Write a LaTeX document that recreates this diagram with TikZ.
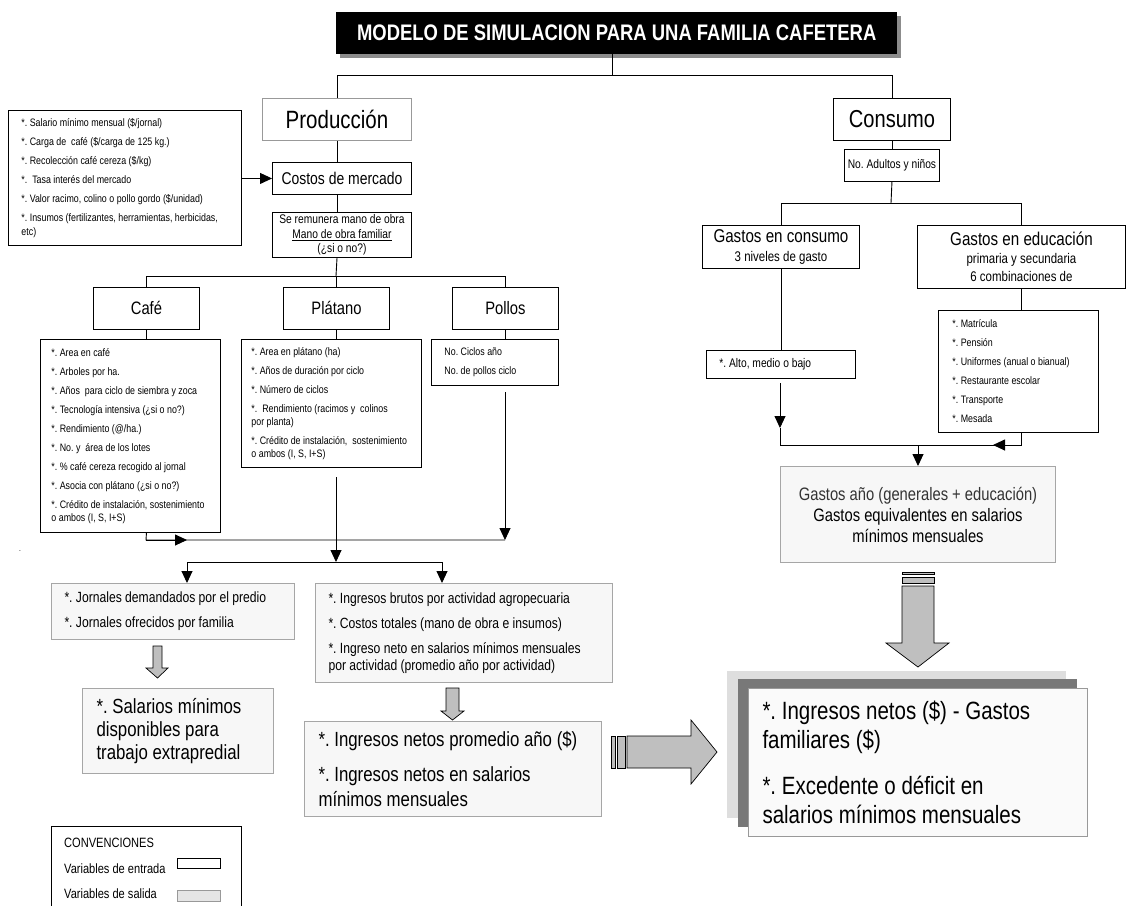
\documentclass[tikz,border=0pt]{standalone}
\usepackage{fontspec}
\setmainfont{Liberation Sans}[FakeStretch=0.82]
\usetikzlibrary{arrows.meta}
\newcommand{\fsz}[2]{\fontsize{#1}{#2}\selectfont}
\frenchspacing
\hyphenpenalty=10000
\exhyphenpenalty=10000
\begin{document}
\frenchspacing
\begin{tikzpicture}[x=1pt,y=-1pt,
 nw/.style={anchor=north west},
 ln/.style={line width=0.9pt},
 arr/.style={line width=0.9pt,-{Triangle[length=12pt,width=11pt]}},
 inbox/.style={draw=black,fill=white,line width=0.9pt,inner sep=0pt},
 outbox/.style={draw=black!35,fill=black!3,line width=1pt,inner sep=0pt},
 blk/.style={draw=black,fill=black!25,line width=0.7pt},
 small/.style={font={\frenchspacing\fsz{10.8}{13}}},
]
\useasboundingbox (0,0) rectangle (1126,905);
\fill[white] (0,0) rectangle (1126,905);

% title
\fill[black!45] (340,16) rectangle (901,58);
\node[nw,fill=black,text=white,inner sep=0pt,minimum width=561,minimum height=42,font={\bfseries\fsz{22.5}{24}}] (title) at (336,12) {MODELO DE SIMULACION PARA UNA FAMILIA CAFETERA};

% production side
\node[nw,draw=black!40,fill=white,line width=1pt,inner sep=0pt,minimum width=149,minimum height=42,font={\fsz{25}{26}}] (prod) at (262,98) {Producción};
\node[nw,inbox,minimum width=117,minimum height=42,font={\fsz{24.5}{26}}] (cons) at (833,98) {Consumo};

\node[nw,inbox,minimum width=233,minimum height=135,text width=207pt,align=flush left,font={\frenchspacing\fsz{10.8}{14}}] (inp) at (8,110)
 {*. Salario mínimo mensual (\$/jornal)\\[5pt]
  *. Carga de\ \ café (\$/carga de 125 kg.)\\[5pt]
  *. Recolección café cereza (\$/kg)\\[5pt]
  *.\ \ Tasa interés del mercado\\[5pt]
  *. Valor racimo, colino o pollo gordo (\$/unidad)\\[5pt]
  *. Insumos (fertilizantes, herramientas, herbicidas,\\
  etc)};

\node[nw,inbox,minimum width=139,minimum height=32,font={\fsz{17}{20}}] (cost) at (272,162) {Costos de mercado};
\node[nw,inbox,minimum width=139,minimum height=45,align=flush center,font={\fsz{12.5}{14.5}}] (rem) at (272,212)
 {Se remunera mano de obra\\ \underline{Mano de obra familiar}\\ (¿si o no?)};

\node[nw,inbox,minimum width=106,minimum height=42,font={\fsz{18}{20}}] (caf) at (93,287) {Café};
\node[nw,inbox,minimum width=106,minimum height=42,font={\fsz{18}{20}}] (pla) at (283,287) {Plátano};
\node[nw,inbox,minimum width=106,minimum height=42,font={\fsz{18}{20}}] (pol) at (452,287) {Pollos};

\node[nw,inbox,small,minimum width=180,minimum height=193,text width=158pt,align=flush left] (cafd) at (40,339)
 {*. Area en café\\[6pt]
  *. Arboles por ha.\\[6pt]
  *. Años\ \ para ciclo de siembra y zoca\\[6pt]
  *. Tecnología intensiva (¿si o no?)\\[6pt]
  *. Rendimiento (@/ha.)\\[6pt]
  *. No. y\ \ área de los lotes\\[6pt]
  *. \% café cereza recogido al jornal\\[6pt]
  *. Asocia con plátano (¿si o no?)\\[6pt]
  *. Crédito de instalación, sostenimiento\\
  o ambos (I, S, I+S)};

\node[nw,inbox,small,minimum width=180,minimum height=128,text width=160pt,align=flush left] (plad) at (241,339)
 {*. Area en plátano (ha)\\[6pt]
  *. Años de duración por ciclo\\[6pt]
  *. Número de ciclos\\[6pt]
  *.\ \ Rendimiento (racimos y\ \ colinos\\
  por planta)\\[6pt]
  *. Crédito de instalación,\ \ sostenimiento\\
  o ambos (I, S, I+S)};

\node[nw,inbox,small,minimum width=127,minimum height=46,text width=101pt,align=flush left] (pold) at (431,339)
 {No. Ciclos año\\[6pt]
  No. de pollos ciclo};

\node[font={\fsz{8}{8}}] (dot) at (20,551) {.};

% outputs of production
\node[nw,outbox,minimum width=243,minimum height=56,text width=217pt,align=flush left,font={\frenchspacing\fsz{14.8}{17}}] (jor) at (51,583)
 {*. Jornales demandados por el predio\\[8pt]
  *. Jornales ofrecidos por familia};

\node[nw,outbox,minimum width=297,minimum height=99,text width=271pt,align=flush left,font={\frenchspacing\fsz{14.8}{17}}] (ing) at (315,583)
 {*. Ingresos brutos por actividad agropecuaria\\[8pt]
  *. Costos totales (mano de obra e insumos)\\[8pt]
  *. Ingreso neto en salarios mínimos mensuales\\
  por actividad (promedio año por actividad)};

\node[nw,outbox,minimum width=191,minimum height=85,text width=163pt,align=flush left,font={\frenchspacing\fsz{20.5}{23}}] (sal) at (82,688)
 {*. Salarios mínimos\\ disponibles para\\ trabajo extrapredial};

\node[nw,outbox,minimum width=297,minimum height=95,text width=269pt,align=flush left,font={\frenchspacing\fsz{20.5}{25}}] (net) at (304,721)
 {*. Ingresos netos promedio año (\$)\\[9pt]
  *. Ingresos netos en salarios\\
  mínimos mensuales};

% consumption side
\node[nw,inbox,minimum width=95,minimum height=32,font={\frenchspacing\fsz{12.5}{14}}] (adu) at (844,149) {No. Adultos y niños};
\node[nw,inbox,minimum width=157,minimum height=43,align=flush center,font={\fsz{18.5}{19}}] (gc) at (702,225)
 {Gastos en consumo\\ {\fsz{14}{16}3 niveles de gasto}};
\node[nw,inbox,minimum width=208,minimum height=63,align=flush center,font={\fsz{18.5}{18}}] (ge) at (917,225)
 {Gastos en educación\\ {\fsz{14}{16}primaria y secundaria}\\ {\fsz{14}{16}6 combinaciones de}};
\node[nw,inbox,minimum width=160,minimum height=122,text width=132pt,align=flush left,font={\frenchspacing\fsz{10.8}{13}}] (edd) at (938,310)
 {*. Matrícula\\[6pt]
  *. Pensión\\[6pt]
  *. Uniformes (anual o bianual)\\[6pt]
  *. Restaurante escolar\\[6pt]
  *. Transporte\\[6pt]
  *. Mesada};
\node[nw,inbox,minimum width=149,minimum height=28,text width=123pt,align=flush left,font={\frenchspacing\fsz{12.5}{14}}] (alto) at (706,350) {*. Alto, medio o bajo};

\node[nw,outbox,minimum width=275,minimum height=96,align=flush center,font={\fsz{18}{21}}] (ga) at (780,466)
 {\textcolor{black!80}{Gastos año (generales + educación)}\\
  Gastos equivalentes en salarios\\ mínimos mensuales};

% final stacked box
\fill[black!13] (727,671) rectangle (1066,818);
\fill[black!53] (738,679) rectangle (1077,827);
\node[nw,draw=black!40,fill=black!2,line width=1pt,inner sep=0pt,minimum width=339,minimum height=148,text width=311pt,align=flush left,font={\frenchspacing\fsz{25}{29}}] (fin) at (748,688)
 {*. Ingresos netos (\$) - Gastos\\ familiares (\$)\\[17pt]
  *. Excedente o déficit en\\ salarios mínimos mensuales};

% legend
\node[nw,draw=black,line width=0.9pt,fill=white,minimum width=190,minimum height=90] (leg) at (51,826) {};
\node[anchor=west,inner sep=0pt,font={\fsz{13.5}{15}}] (lg1) at (64,843) {CONVENCIONES};
\node[anchor=west,inner sep=0pt,font={\fsz{13.5}{15}}] (lg2) at (64,869) {Variables de entrada};
\node[anchor=west,inner sep=0pt,font={\fsz{13.5}{15}}] (lg3) at (64,894) {Variables de salida};
\node[nw,draw=black,line width=0.8pt,fill=white,minimum width=43,minimum height=10,inner sep=0pt] (lgin) at (177,858) {};
\node[nw,draw=black!40,line width=0.8pt,fill=black!10,minimum width=43,minimum height=11,inner sep=0pt] (lgout) at (177,890) {};

% connectors: top
\coordinate (tb) at (612,75);
\draw[ln] (tb |- title.south) -- (tb);
\draw[ln] (prod.north) -- (prod.north |- tb) -- (cons.north |- tb) -- (cons.north);
\draw[ln] (prod.south) -- (prod.south |- cost.north);
\draw[arr] (inp.east |- cost.west) -- (cost.west);
\draw[ln] (prod.south |- cost.south) -- (prod.south |- rem.north);
\coordinate (pb) at (336,276);
\draw[ln] (prod.south |- rem.south) -- (pb);
\draw[ln] (caf.north) -- (caf.north |- pb) -- (pol.north |- pb) -- (pol.north);
\draw[ln] (pla.north) -- (pla.north |- pb);
\draw[ln] (caf.south) -- (caf.south |- cafd.north);
\draw[ln] (pla.south) -- (pla.south |- plad.north);
\draw[ln] (pol.south) -- (pol.south |- pold.north);

% production collection
\coordinate (b1) at (146,540);
\coordinate (b1t) at (187,540);
\coordinate (b1e) at (505,540);
\coordinate (pls) at (336,477);
\coordinate (b2) at (336,562);
\coordinate (b2l) at (187,562);
\coordinate (b2r) at (442,562);
\coordinate (pos) at (505,392);
\draw[ln] (caf.south |- cafd.south) -- (b1) -- (b1e);
\draw[arr] (b1) -- (b1t);
\draw[arr] (pos) -- (b1e);
\draw[arr] (pls) -- (b2);
\draw[ln] (b2l) -- (b2r);
\draw[arr] (b2l) -- (b2l |- jor.north);
\draw[arr] (b2r) -- (b2r |- ing.north);

% consumption connectors
\draw[ln] (cons.south) -- (cons.south |- adu.north);
\coordinate (cb) at (891,203);
\draw[ln] (adu.south) -- (cb);
\draw[ln] (gc.north) -- (gc.north |- cb) -- (ge.north |- cb) -- (ge.north);
\draw[ln] (ge.south) -- (ge.south |- edd.north);
\draw[ln] (gc.south) -- (gc.south |- alto.north);
\coordinate (aa) at (780,383);
\coordinate (ab) at (780,428);
\coordinate (cb1) at (780,445);
\coordinate (cb2) at (1021,445);
\coordinate (cb3) at (993,445);
\draw[arr] (aa) -- (ab);
\draw[ln] (ab) -- (cb1) -- (cb2);
\draw[arr] (cb2 |- edd.south) -- (cb2) -- (cb3);
\draw[arr] (ga.north |- cb1) -- (ga.north);

% block arrows
\draw[blk] (153,646) -- (162,646) -- (162,668) -- (168,668) -- (157.5,678) -- (146,668) -- (153,668) -- cycle;
\draw[blk] (446,688) -- (459,688) -- (459,711) -- (464,711) -- (452.5,720) -- (441,711) -- (446,711) -- cycle;
\draw[blk] (611,736) rectangle (615,768);
\draw[blk] (617,736) rectangle (625,768);
\draw[blk] (627,736) -- (691,736) -- (691,720) -- (717,752) -- (691,784) -- (691,768) -- (627,768) -- cycle;
\draw[blk] (902,572) rectangle (934,574.5);
\draw[blk] (902,577) rectangle (934,583);
\draw[blk] (902,586) -- (934,586) -- (934,643) -- (949,643) -- (918,667) -- (886,643) -- (902,643) -- cycle;
\end{tikzpicture}
\end{document}
